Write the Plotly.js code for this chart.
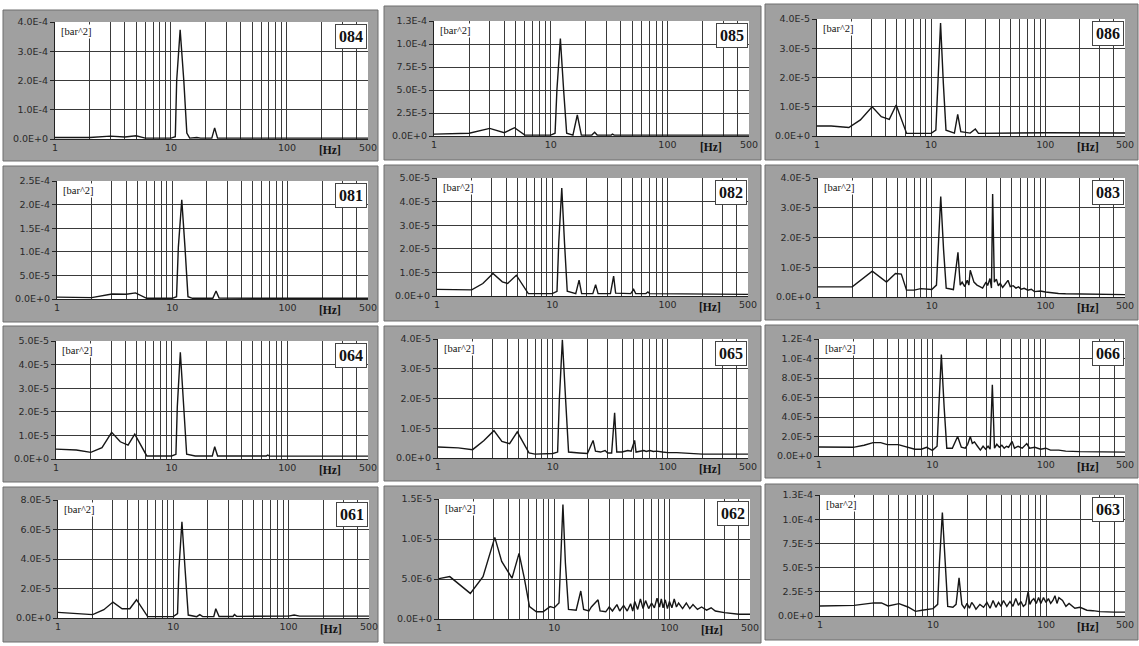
<!DOCTYPE html>
<html><head><meta charset="utf-8">
<script src="https://cdn.plot.ly/plotly-3.0.1.min.js"></script>
<style>html,body{margin:0;padding:0;background:#fff}#chart{width:1139px;height:646px}</style>
</head><body><div id="chart"></div>
<script>
// ---------- data (frequency in Hz, PSD in bar^2) ----------
const xGrid = [1,2,3,4,5,6,7,8,9,10,20,30,40,50,60,70,80,90,100,200,300,400,500];
const xGridText = ['1','','','','','','','','','10','','','','','','','','','100','','','','500'];

const f084 = [1, 2, 3, 4, 5, 6, 10, 10.9, 11.2, 12.0, 12.9, 13.7, 14.5, 16.7, 18, 22.5, 23.8, 25.2, 100, 500];
const p084 = [5e-6, 5e-6, 1.0e-5, 7e-6, 1.1e-5, 3e-6, 3e-6, 8e-6, 2.0e-4, 3.73e-4, 2.0e-4, 2e-5, 3e-6, 5e-6, 3e-6, 3e-6, 3.8e-5, 3e-6, 3e-6, 3e-6];
const yv084 = [0, 1e-4, 2e-4, 3e-4, 4e-4];
const yt084 = ['0.0E+0', '1.0E-4', '2.0E-4', '3.0E-4', '4.0E-4'];

const f085 = [1, 2, 3, 4, 4.9, 6, 10, 10.9, 11.3, 12.1, 12.9, 13.7, 15.5, 16.9, 18.3, 22.5, 23.8, 25, 33, 33.8, 35, 500];
const p085 = [2e-6, 3e-6, 8.3e-6, 3.6e-6, 9e-6, 1e-6, 1e-6, 3e-6, 5e-5, 1.06e-4, 5e-5, 3e-6, 1e-6, 2.3e-5, 1e-6, 1e-6, 4e-6, 1e-6, 1e-6, 2e-6, 1e-6, 1e-6];
const yv085 = [0, 2.5e-5, 5e-5, 7.5e-5, 1e-4, 1.25e-4];
const yt085 = ['0.0E+0', '2.5E-5', '5.0E-5', '7.5E-5', '1.0E-4', '1.3E-4'];

const f086 = [1, 1.33, 1.9, 2.4, 3.04, 3.66, 4.3, 4.94, 6.1, 10, 11, 11.4, 12.1, 12.8, 13.5, 16, 17.1, 18.2, 22, 24.4, 26, 100, 500];
const p086 = [3.4e-6, 3.4e-6, 2.9e-6, 5.5e-6, 1.0e-5, 6.6e-6, 5.7e-6, 1.06e-5, 9e-7, 9e-7, 2e-6, 1.8e-5, 3.86e-5, 1.8e-5, 2e-6, 1e-6, 7.4e-6, 1.5e-6, 1e-6, 2.4e-6, 9e-7, 1.1e-6, 1e-6];
const yv086 = [0, 1e-5, 2e-5, 3e-5, 4e-5];
const yt086 = ['0.0E+0', '1.0E-5', '2.0E-5', '3.0E-5', '4.0E-5'];

const f081 = [1, 2, 3, 4, 4.8, 5.5, 6, 10, 10.9, 11.3, 12.1, 12.9, 13.7, 15, 22.5, 24, 25.5, 100, 500];
const p081 = [4e-6, 3e-6, 1.06e-5, 1e-5, 1.3e-5, 5e-6, 1.5e-6, 1.5e-6, 5e-6, 1.1e-4, 2.1e-4, 1.1e-4, 5e-6, 1.5e-6, 1.5e-6, 1.7e-5, 2e-6, 1.5e-6, 1.5e-6];
const yv081 = [0, 5e-5, 1e-4, 1.5e-4, 2e-4, 2.5e-4];
const yt081 = ['0.0E+0', '5.0E-5', '1.0E-4', '1.5E-4', '2.0E-4', '2.5E-4'];

const f082 = [1, 2, 2.5, 3.06, 3.69, 4.1, 4.88, 6.2, 10, 11, 11.4, 12.1, 12.8, 13.5, 16, 17.1, 18, 22.5, 23.8, 25, 32, 34.1, 35.5, 48, 50.9, 53, 65, 67.7, 70, 500];
const p082 = [2.8e-6, 2.6e-6, 5.3e-6, 9.5e-6, 6e-6, 5.3e-6, 8.8e-6, 1e-6, 1e-6, 2e-6, 2.3e-5, 4.57e-5, 2.2e-5, 2e-6, 1e-6, 6.7e-6, 1e-6, 1e-6, 4.8e-6, 1e-6, 1e-6, 8.4e-6, 1.2e-6, 1e-6, 2.8e-6, 1e-6, 1e-6, 1.7e-6, 1e-6, 7e-7];
const yv082 = [0, 1e-5, 2e-5, 3e-5, 4e-5, 5e-5];
const yt082 = ['0.0E+0', '1.0E-5', '2.0E-5', '3.0E-5', '4.0E-5', '5.0E-5'];

const f083 = [1, 2, 3, 4, 4.8, 5.4, 6, 7, 8, 9, 10, 11, 11.5, 12.0, 12.7, 13.4, 15.5, 17, 17.8, 18.5, 19.5, 20.5, 21.2, 21.8, 23.5, 25, 26.5, 28, 30, 31, 32.5, 33.5, 34.3, 35.5, 37, 38.5, 40, 42, 44, 46.8, 49, 52, 55, 58, 61, 65, 70, 75, 80, 90, 100, 110, 130, 150, 200, 300, 500];
const p083 = [3.4e-6, 3.4e-6, 8.7e-6, 5e-6, 7.9e-6, 7.7e-6, 2.3e-6, 2.3e-6, 2.8e-6, 2.6e-6, 2.5e-6, 4e-6, 1.7e-5, 3.38e-5, 1.6e-5, 3e-6, 2.5e-6, 1.5e-5, 4e-6, 5e-6, 3.5e-6, 5.6e-6, 4e-6, 9e-6, 5e-6, 4e-6, 3.5e-6, 3e-6, 5e-6, 3.9e-6, 6.2e-6, 3e-6, 3.46e-5, 5e-6, 6e-6, 3.8e-6, 4.6e-6, 3.2e-6, 4.2e-6, 5.6e-6, 3.5e-6, 3.8e-6, 3e-6, 3.4e-6, 2.6e-6, 2.9e-6, 2.3e-6, 2.6e-6, 1.8e-6, 2.0e-6, 1.7e-6, 1.5e-6, 1.2e-6, 1.1e-6, 1.0e-6, 8e-7, 8e-7];
const yv083 = [0, 1e-5, 2e-5, 3e-5, 4e-5];
const yt083 = ['0.0E+0', '1.0E-5', '2.0E-5', '3.0E-5', '4.0E-5'];

const f064 = [1, 1.5, 2, 2.5, 3.03, 3.6, 4.2, 4.8, 6.1, 10, 10.9, 11.2, 11.9, 12.7, 13.5, 16, 17, 18, 22.5, 23.6, 25, 34, 35, 36, 66, 68, 70, 500];
const p064 = [4.2e-6, 3.8e-6, 2.8e-6, 4.8e-6, 1.13e-5, 7.3e-6, 5.9e-6, 1.05e-5, 1.3e-6, 1.3e-6, 2e-6, 2.2e-5, 4.52e-5, 2.2e-5, 2e-6, 1.3e-6, 1.4e-6, 1.3e-6, 1.3e-6, 5.2e-6, 1.3e-6, 1.3e-6, 1.5e-6, 1.3e-6, 1.3e-6, 1.7e-6, 1.2e-6, 1.2e-6];
const yv064 = [0, 1e-5, 2e-5, 3e-5, 4e-5, 5e-5];
const yt064 = ['0.0E+0', '1.0E-5', '2.0E-5', '3.0E-5', '4.0E-5', '5.0E-5'];

const f065 = [1, 1.5, 2, 2.5, 3.07, 3.6, 4.2, 4.9, 6.2, 7, 10, 11, 11.4, 12.1, 12.9, 13.7, 17, 20, 22.4, 23.5, 26, 28.5, 30, 32.5, 34.5, 36, 40, 45, 48, 51.5, 53, 58, 62, 65, 70, 75, 80, 90, 100, 120, 150, 200, 300, 500];
const p065 = [3.7e-6, 3.4e-6, 2.8e-6, 5.8e-6, 9.2e-6, 5.6e-6, 4.8e-6, 8.8e-6, 1.7e-6, 1.3e-6, 1.5e-6, 2e-6, 2e-5, 3.97e-5, 2e-5, 2e-6, 1.7e-6, 1.5e-6, 5.9e-6, 2.3e-6, 2e-6, 2.5e-6, 1.7e-6, 1.7e-6, 1.52e-5, 2e-6, 2e-6, 2.5e-6, 2.3e-6, 5.9e-6, 2e-6, 2.2e-6, 2.5e-6, 2.2e-6, 2.5e-6, 2.2e-6, 2.3e-6, 2.0e-6, 1.8e-6, 1.8e-6, 1.5e-6, 1.3e-6, 1.3e-6, 1.3e-6];
const yv065 = [0, 1e-5, 2e-5, 3e-5, 4e-5];
const yt065 = ['0.0E+0', '1.0E-5', '2.0E-5', '3.0E-5', '4.0E-5'];

const f066 = [1, 2, 2.5, 3, 3.5, 4, 5, 6, 7, 8, 8.9, 10, 11, 11.4, 12.0, 12.7, 13.4, 15, 16.7, 18, 19.5, 20.5, 21.6, 22.5, 23.5, 25, 26.5, 28, 29.5, 31, 32.3, 33.8, 35.3, 37, 39, 41, 43, 45, 47, 50.5, 53, 57, 62, 68, 72, 80, 90, 100, 110, 130, 150, 200, 300, 500];
const p066 = [9.3e-6, 8.9e-6, 1.1e-5, 1.37e-5, 1.37e-5, 1.17e-5, 1.17e-5, 9.3e-6, 6.9e-6, 6.9e-6, 8.9e-6, 5.8e-6, 1e-5, 5e-5, 1.04e-4, 5e-5, 8e-6, 8e-6, 2.0e-5, 9e-6, 8e-6, 1.2e-5, 2.0e-5, 1.3e-5, 1.44e-5, 1.0e-5, 6e-6, 1e-5, 7e-6, 1e-5, 7e-6, 7.3e-5, 8e-6, 1.2e-5, 9e-6, 1.1e-5, 8e-6, 1.0e-5, 9e-6, 1.5e-5, 8e-6, 1e-5, 8e-6, 1.27e-5, 8e-6, 9e-6, 7e-6, 8e-6, 6e-6, 6e-6, 5e-6, 4.5e-6, 4e-6, 4e-6];
const yv066 = [0, 2e-5, 4e-5, 6e-5, 8e-5, 1e-4, 1.2e-4];
const yt066 = ['0.0E+0', '2.0E-5', '4.0E-5', '6.0E-5', '8.0E-5', '1.0E-4', '1.2E-4'];

const f061 = [1, 2, 2.5, 3, 3.6, 4.2, 4.8, 6, 10, 10.9, 11.2, 11.9, 12.7, 13.5, 16, 17, 18, 22.5, 23.4, 25, 33, 34, 35.5, 100, 112, 125, 500];
const p061 = [3.8e-6, 2.3e-6, 5.6e-6, 1.08e-5, 6.3e-6, 6.3e-6, 1.24e-5, 9e-7, 9e-7, 3e-6, 3.3e-5, 6.53e-5, 3.2e-5, 2e-6, 9e-7, 2.3e-6, 9e-7, 1e-6, 6.3e-6, 1e-6, 1e-6, 2.3e-6, 1.1e-6, 1.3e-6, 2.0e-6, 1.3e-6, 1.3e-6];
const yv061 = [0, 2e-5, 4e-5, 6e-5, 8e-5];
const yt061 = ['0.0E+0', '2.0E-5', '4.0E-5', '6.0E-5', '8.0E-5'];

const f062 = [1, 1.24, 1.87, 2.41, 3.05, 3.5, 4.3, 4.95, 5.5, 6.1, 7, 8, 9.2, 10, 11, 11.4, 11.9, 12.5, 13.3, 15.5, 17, 18, 20, 21, 24, 25, 28, 30, 32, 35, 37, 40, 43, 46, 48, 50, 53, 56, 59, 62, 66, 70, 74, 78, 82, 85, 88, 92, 96, 100, 105, 110, 115, 120, 130, 140, 150, 160, 175, 190, 210, 230, 250, 300, 350, 400, 500];
const p062 = [5.04e-6, 5.3e-6, 3.2e-6, 5.3e-6, 1.02e-5, 7.2e-6, 5.1e-6, 8.2e-6, 5.1e-6, 1.55e-6, 9e-7, 9e-7, 1.55e-6, 1.4e-6, 2e-6, 7e-6, 1.43e-5, 7e-6, 1.2e-6, 1.1e-6, 3.5e-6, 1.2e-6, 1.0e-6, 1.5e-6, 2.4e-6, 1e-6, 9e-7, 1.5e-6, 1.0e-6, 1.8e-6, 1e-6, 1.7e-6, 1e-6, 1.9e-6, 1e-6, 2.2e-6, 1.2e-6, 2.5e-6, 1.3e-6, 2.3e-6, 1.3e-6, 2.0e-6, 1.4e-6, 2.6e-6, 1.5e-6, 2.5e-6, 1.4e-6, 2.4e-6, 1.3e-6, 2.2e-6, 1.4e-6, 2.5e-6, 1.5e-6, 2.0e-6, 1.3e-6, 2.0e-6, 1.3e-6, 1.8e-6, 1.2e-6, 1.5e-6, 1.1e-6, 1.4e-6, 1.0e-6, 8e-7, 7e-7, 6e-7, 6e-7];
const yv062 = [0, 5e-6, 1e-5, 1.5e-5];
const yt062 = ['0.0E+0', '5.0E-6', '1.0E-5', '1.5E-5'];

const f063 = [1, 2, 3, 3.5, 4, 5, 6, 7, 8, 9, 10, 11, 11.4, 12.1, 12.8, 13.5, 15, 16, 17, 18, 19, 20, 21, 22, 23, 24, 26, 28, 30, 32, 34, 36, 38, 40, 42, 45, 48, 51, 54, 57, 60, 63, 66, 69.5, 72, 75, 78, 82, 86, 90, 95, 100, 105, 110, 115, 120, 125, 130, 140, 150, 160, 180, 200, 230, 260, 300, 400, 500];
const p063 = [1.04e-5, 1.1e-5, 1.35e-5, 1.35e-5, 1.04e-5, 1.28e-5, 9.3e-6, 4.8e-6, 5.9e-6, 6.5e-6, 7.6e-6, 1.2e-5, 5.5e-5, 1.07e-4, 5.5e-5, 1e-5, 9e-6, 1.2e-5, 3.94e-5, 1.2e-5, 8e-6, 1.3e-5, 8e-6, 1.4e-5, 1.1e-5, 7e-6, 1.2e-5, 9e-6, 1.4e-5, 8e-6, 1.6e-5, 9e-6, 1.4e-5, 1.0e-5, 1.6e-5, 1.0e-5, 1.5e-5, 1e-5, 1.8e-5, 1.1e-5, 1.5e-5, 1.0e-5, 1.2e-5, 2.55e-5, 1.2e-5, 1.6e-5, 1.8e-5, 1.3e-5, 1.9e-5, 1.3e-5, 1.9e-5, 1.4e-5, 1.8e-5, 1.3e-5, 1.6e-5, 2.1e-5, 1.3e-5, 1.9e-5, 1.6e-5, 1.0e-5, 1.3e-5, 8e-6, 9e-6, 6e-6, 5.5e-6, 4.5e-6, 4e-6, 4e-6];
const yv063 = [0, 2.5e-5, 5e-5, 7.5e-5, 1e-4, 1.25e-4];
const yt063 = ['0.0E+0', '2.5E-5', '5.0E-5', '7.5E-5', '1.0E-4', '1.3E-4'];

const panelIds = ['084','085','086','081','082','083','064','065','066','061','062','063'];
const panelFreq = [f084,f085,f086,f081,f082,f083,f064,f065,f066,f061,f062,f063];
const panelPsd  = [p084,p085,p086,p081,p082,p083,p064,p065,p066,p061,p062,p063];
const panelYv   = [yv084,yv085,yv086,yv081,yv082,yv083,yv064,yv065,yv066,yv061,yv062,yv063];
const panelYt   = [yt084,yt085,yt086,yt081,yt082,yt083,yt064,yt065,yt066,yt061,yt062,yt063];
const unitY = '[bar^2]';
const unitX = '[Hz]';
const unitXFreq = 235;

// ---------- layout geometry (page pixels) ----------
const W = 1139, H = 646;
const plotBoxes = [ // left, right, top, bottom
  [55,368,22,139],[434,749,21,136],[817,1125,19,136],
  [57,368,181,299],[437,748,178,296],[818,1125,178,297],
  [56,368,341,459],[438,748,339,458],[819,1125,339,456],
  [58,369,500,618],[439,750,499,619],[820,1125,495,616]
];
const panelBoxes = [ // x0, x1, y0, y1
  [3,378,10,161],[384,761,6,160],[765,1138,4,160],
  [3,378,166,322],[384,761,165,321],[765,1138,165,320],
  [3,378,326,482],[384,761,326,481],[765,1138,325,478],
  [3,378,487,642],[384,761,486,643],[765,1138,484,640]
];

const gridCol = '#3a3a3a';
const tickFont = {family:'DejaVu Sans, Liberation Sans, sans-serif', size:9.5, color:'#2a2a2a'};
const traces = [];
const layout = {
  width: W, height: H,
  margin: {l:0, r:0, t:0, b:0},
  paper_bgcolor: '#ffffff',
  plot_bgcolor: '#ffffff',
  showlegend: false,
  hovermode: false,
  shapes: [],
  annotations: []
};

panelBoxes.forEach(b => {
  layout.shapes.push({type:'rect', xref:'paper', yref:'paper', layer:'below',
    x0:b[0]/W, x1:b[1]/W, y0:1-b[3]/H, y1:1-b[2]/H,
    fillcolor:'#a0a0a0', line:{color:'#6e6e6e', width:1}});
});

panelIds.forEach((id, i) => {
  const n = i === 0 ? '' : String(i+1);
  const b = plotBoxes[i];
  const yv = panelYv[i];
  traces.push({
    type:'scatter', mode:'lines',
    x: panelFreq[i], y: panelPsd[i],
    xaxis:'x'+n, yaxis:'y'+n,
    line:{color:'#161616', width:1.4},
    hoverinfo:'skip'
  });
  layout['xaxis'+n] = {
    type:'log', range:[0, Math.log10(500)],
    domain:[b[0]/W, b[1]/W], anchor:'y'+n,
    tickmode:'array', tickvals:xGrid, ticktext:xGridText,
    showgrid:true, gridcolor:gridCol, gridwidth:1,
    showline:true, linecolor:'#222', linewidth:1, mirror:false,
    ticks:'', zeroline:false, tickfont:tickFont, fixedrange:true
  };
  layout['yaxis'+n] = {
    range:[0, yv[yv.length-1]],
    domain:[1-b[3]/H, 1-b[2]/H], anchor:'x'+n,
    tickmode:'array', tickvals:yv, ticktext:panelYt[i],
    showgrid:true, gridcolor:gridCol, gridwidth:1,
    showline:true, linecolor:'#222', linewidth:1,
    ticks:'outside', ticklen:4, tickcolor:'#222',
    zeroline:false, tickfont:tickFont, fixedrange:true
  };
  layout.shapes.push({type:'rect', xref:'x'+n+' domain', yref:'y'+n+' domain', layer:'below',
    x0:0, x1:1, y0:0, y1:1, fillcolor:'#ffffff', line:{width:0}});
  layout.annotations.push({
    xref:'x'+n+' domain', yref:'y'+n+' domain', x:0.012, y:0.985,
    xanchor:'left', yanchor:'top', showarrow:false, text:unitY,
    font:{family:'Liberation Serif, Times New Roman, serif', size:10.5, color:'#111'},
    bgcolor:'#ffffff', borderpad:1
  });
  layout.annotations.push({
    xref:'x'+n+' domain', yref:'y'+n+' domain', x:1, y:1, xshift:-1, yshift:-2,
    xanchor:'right', yanchor:'top', showarrow:false, text:'<b>'+id+'</b>',
    font:{family:'Liberation Serif, Times New Roman, serif', size:16, color:'#111'},
    bgcolor:'#ffffff', bordercolor:'#444', borderwidth:1, borderpad:3
  });
  layout.annotations.push({
    xref:'x'+n, yref:'y'+n+' domain', x:Math.log10(unitXFreq), y:0, yshift:-3,
    xanchor:'center', yanchor:'top', showarrow:false, text:'<b>'+unitX+'</b>',
    font:{family:'Liberation Serif, Times New Roman, serif', size:11.5, color:'#111'}
  });
});

Plotly.newPlot('chart', traces, layout, {staticPlot:true, displayModeBar:false});
</script>
</body></html>
